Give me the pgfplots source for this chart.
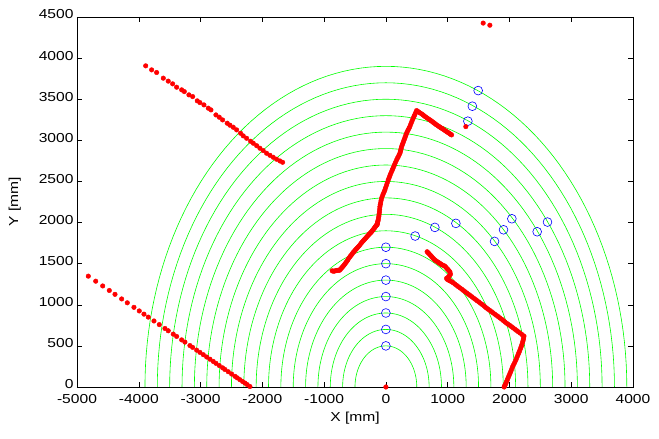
\documentclass[border=0pt]{standalone}
\usepackage{fontspec}
\setmainfont[FakeStretch=1.2]{Liberation Sans}
\usepackage{pgfplots}
\pgfplotsset{compat=1.18}
\begin{document}
\begin{tikzpicture}
\begin{axis}[
  at={(0,0)}, anchor=south west,
  scale only axis, width=556pt, height=370pt,
  xmin=-5000, xmax=4000, ymin=0, ymax=4500,
  xtick={-5000,-4000,...,4000}, ytick={0,500,...,4500},
  tick align=inside, major tick length=5pt,
  tick style={black, line width=0.5pt},
  axis line style={black, line width=0.8pt},
  xlabel={X [mm]}, ylabel={Y [mm]},
  scaled ticks=false,
  /pgf/number format/1000 sep={},
  /pgf/number format/assume math mode=true,
  font=\fontsize{13}{15}\selectfont,
  xticklabel style={yshift=-3.5pt},
  yticklabel style={yshift=2.5pt},
  xlabel style={yshift=-2pt},
  ylabel style={yshift=11pt},
]
% range rings, radii 500..3900 mm
\pgfplotsinvokeforeach{500,700,...,3900}{
  \addplot[color={rgb,1:red,0;green,1;blue,0}, line width=0.6pt, domain=0:180, samples=91]
    ({#1*cos(x)},{#1*sin(x)});
}
% blue circles
\addplot[only marks, mark=o, mark size=4.4pt, blue, mark options={line width=0.6pt}] coordinates {
(0,500)(0,700)(0,900)(0,1100)(0,1300)(0,1500)(0,1700)
(474,1836)(793,1941)(1133,1990)(1759,1771)(1904,1912)(2039,2046)
(2449,1888)(2616,2006)(1327,3233)(1400,3415)(1494,3605)
};
% red measurements
\addplot[only marks, mark=*, mark size=2.3pt, red] coordinates {
(-4817,1348)(-4697,1287)(-4584,1229)(-4477,1174)(-4385,1127)(-4277,1071)
(-4186,1024)(-4078,969)(-3992,925)(-3916,886)(-3846,850)(-3754,803)
(-3668,759)(-3576,712)(-3523,684)(-3442,643)(-3387,615)(-3306,573)
(-3253,546)(-3172,504)(-3128,482)(-3063,448)(-3010,421)(-2956,393)
(-2901,365)(-2848,338)(-2795,311)(-2751,288)(-2698,261)(-2643,233)
(-2605,213)(-2552,186)(-2497,158)(-2443,130)(-2406,111)(-2363,89)
(-2320,67)(-2282,48)(-2245,29)(-2201,6)
};
\addplot[only marks, mark=*, mark size=2.3pt, red] coordinates {
(-3888,3906)(-3792,3857)(-3711,3825)(-3603,3756)(-3523,3720)(-3452,3687)
(-3387,3646)(-3306,3614)(-3263,3593)(-3188,3553)(-3128,3532)(-3053,3480)
(-3010,3459)(-2945,3431)(-2875,3391)(-2832,3370)(-2751,3309)(-2697,3281)
(-2643,3248)(-2568,3208)(-2524,3184)(-2471,3159)(-2416,3127)(-2351,3086)
(-2309,3054)(-2254,3025)(-2190,2989)(-2147,2965)(-2092,2935)(-2039,2904)
(-1986,2875)(-1931,2843)(-1877,2818)(-1824,2794)(-1769,2770)(-1715,2749)
(-1672,2733)
};
\addplot[only marks, mark=*, mark size=2.3pt, red] coordinates {
(-869,1413)(-850,1408)(-830,1410)(-810,1415)(-790,1418)(-770,1420)(-750,1420)
(-735,1432)(-720,1445)(-705,1458)(-690,1470)(-675,1485)(-660,1500)(-645,1515)
(-630,1530)(-615,1548)(-600,1565)(-583,1583)(-570,1596)
(-555,1610)(-540,1625)(-525,1640)(-510,1652)(-495,1665)(-480,1678)(-465,1690)
(-450,1703)(-435,1715)(-418,1731)(-400,1748)(-384,1763)
(-367,1778)(-353,1789)(-340,1800)(-325,1812)(-310,1825)(-295,1838)(-280,1850)
(-268,1860)(-255,1870)(-243,1879)(-232,1888)
(-221,1899)(-210,1910)(-197,1922)(-185,1935)(-175,1945)(-165,1955)(-157,1962)
(-150,1970)(-141,1975)
(-138,1988)(-135,2000)(-130,2015)(-125,2030)(-119,2055)(-113,2079)(-109,2105)
(-105,2130)(-101,2161)(-97,2192)(-91,2216)(-85,2240)(-78,2268)
(-70,2295)(-58,2320)(-45,2345)(-30,2370)(-16,2396)(-3,2425)(10,2455)(24,2486)
(38,2518)(52,2544)(65,2570)(78,2595)(92,2619)(104,2640)
(115,2660)(128,2683)(140,2705)(156,2733)(173,2761)(186,2781)(200,2800)
(213,2821)(227,2843)(234,2862)(240,2880)(247,2902)(254,2923)
(265,2944)(275,2965)(285,2985)(295,3005)(305,3025)(315,3045)(325,3066)
(335,3086)(347,3106)(360,3125)(374,3146)(388,3167)(401,3194)(415,3220)
(428,3245)(442,3269)(456,3292)(470,3315)(484,3339)(497,3362)
(513,3353)(530,3345)(554,3333)(578,3322)(599,3310)(620,3298)(642,3285)
(665,3273)(688,3261)(712,3249)(731,3238)(750,3228)(768,3218)(785,3208)
(803,3198)(820,3188)(840,3178)(860,3168)(878,3159)(895,3150)(912,3143)
(928,3135)(947,3125)(965,3115)(983,3106)(1000,3098)(1018,3089)(1035,3080)
(1049,3073)(1063,3066)
};
\addplot[only marks, mark=*, mark size=2.3pt, red] coordinates {
(668,1645)(684,1632)(700,1620)(718,1605)(735,1590)(750,1577)(766,1564)
(783,1552)(800,1540)(820,1530)(840,1520)(857,1511)(874,1503)
(892,1494)(910,1485)(932,1478)(955,1470)(972,1455)(990,1440)(1005,1428)
(1020,1415)(1036,1401)(1046,1373)(1033,1359)
(1020,1345)(1008,1335)(995,1325)(982,1320)(1000,1305)(1020,1298)(1040,1290)
(1065,1279)(1090,1267)
(1118,1251)(1145,1236)(1172,1220)(1200,1205)(1228,1190)(1255,1174)(1283,1158)
(1310,1143)(1338,1127)(1365,1112)(1393,1097)(1420,1081)(1448,1066)
(1475,1050)(1503,1035)(1530,1019)(1558,1004)(1585,988)(1607,974)(1629,960)
(1655,946)(1680,933)(1708,917)(1735,902)(1763,886)
(1790,871)(1818,856)(1845,840)(1873,825)(1900,809)(1927,792)(1953,776)
(1979,763)(2005,750)(2033,734)(2060,719)(2088,703)(2115,688)(2143,672)
(2170,657)(2203,638)(2235,620)
(2230,600)(2225,580)(2218,558)(2210,535)(2200,512)(2190,490)(2178,465)
(2165,440)(2153,418)(2140,395)(2125,368)(2110,340)(2095,315)
(2080,290)(2065,268)(2050,245)(2038,220)(2025,195)(2013,172)(2000,150)
(1988,128)(1975,105)(1963,82)(1950,60)(1940,42)
(1930,25)(1922,12)(1915,0)
};
\addplot[only marks, mark=*, mark size=2.3pt, red] coordinates {
(1575,4426)(1683,4400)(1294,3167)(0,0)
};
\end{axis}
\pgfresetboundingbox
\path (-77pt,-52pt) rectangle (582pt,387pt);
\end{tikzpicture}
\end{document}
